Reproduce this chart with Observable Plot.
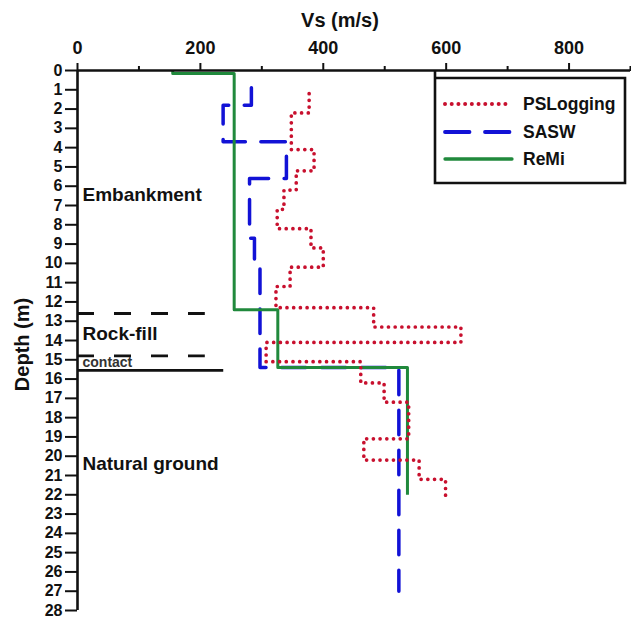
<!DOCTYPE html>
<html>
<head>
<meta charset="utf-8">
<script src="https://cdn.jsdelivr.net/npm/d3@7"></script>
<script src="https://cdn.jsdelivr.net/npm/@observablehq/plot@0.6"></script>
<style>
  html, body { margin: 0; padding: 0; background: #fff; }
  #chart { position: relative; width: 631px; height: 618px; }
</style>
</head>
<body>
<div id="chart"></div>
<script>
// ---------- data ----------
// PS Logging: layer velocities (m/s) and layer top depths (m)
const psVs  = [377, 348, 385, 356, 336, 325, 380, 400, 346, 323, 482, 624, 307, 461, 499, 539, 466, 556, 599];
const psTop = [1.2, 2.2, 4.1, 5.2, 6.2, 7.2, 8.2, 9.2, 10.2, 11.2, 12.3, 13.3, 14.1, 15.1, 16.2, 17.2, 19.1, 20.2, 21.2];
const psBottom = 22.2;

// SASW
const saswVs  = [283, 237, 340, 280, 288, 297, 523];
const saswTop = [0.9, 1.8, 3.7, 5.6, 8.7, 9.9, 15.4];
const saswBottom = 27;

// ReMi
const remiVs  = [155, 255, 326, 537];
const remiTop = [0, 0.15, 12.4, 15.4];
const remiBottom = 22;

// Geological boundaries
const dashedDepth = [12.6, 14.8];
const dashedEnd   = [208, 208];
const contactDepth = [15.55];
const contactEnd   = [238];

// Zone labels
const zoneNames = ["Embankment", "Rock-fill", "Natural ground"];
const zoneDepth = [6.45, 13.65, 20.4];
const contactLabel = ["contact"];
const contactLabelDepth = [15.15];

// Ticks
const xMajorTicks = [0, 200, 400, 600, 800];
const xMinorTicks = [100, 300, 500, 700, 900];
const yTicks = d3.range(0, 29);

// Series names
const seriesNames = ["PSLogging", "SASW", "ReMi"];

// ---------- build tables ----------
function profile(vs, tops, bottom) {
  const pts = [];
  vs.forEach((v, i) => {
    pts.push({v, d: tops[i]});
    pts.push({v, d: i + 1 < tops.length ? tops[i + 1] : bottom});
  });
  return pts;
}
const psData = profile(psVs, psTop, psBottom);
const saswData = profile(saswVs, saswTop, saswBottom);
const remiData = profile(remiVs, remiTop, remiBottom);

const dashedRules = dashedDepth.map((d, i) => ({d, x2: dashedEnd[i]}));
const contactRules = contactDepth.map((d, i) => ({d, x2: contactEnd[i]}));
const zones = zoneNames.map((name, i) => ({name, d: zoneDepth[i]}));
const contacts = contactLabel.map((name, i) => ({name, d: contactLabelDepth[i]}));

// ---------- styles ----------
const FONT = "'Liberation Sans', Arial, Helvetica, sans-serif";
const styles = {
  PSLogging: {stroke: "#c8102e", strokeWidth: 3.7, strokeDasharray: "0.01 6.7", strokeLinecap: "round"},
  SASW:      {stroke: "#1212d6", strokeWidth: 3.5, strokeDasharray: "24.5 15.5", strokeLinecap: "round"},
  ReMi:      {stroke: "#20893c", strokeWidth: 3,   strokeDasharray: null, strokeLinecap: "butt"}
};

const chart = Plot.plot({
  width: 631,
  height: 618,
  marginTop: 70,
  marginBottom: 8,
  marginLeft: 77,
  marginRight: 1,
  style: {fontFamily: FONT, fontWeight: "bold", color: "#111", background: "#fff", overflow: "visible"},
  x: {domain: [0, 900], axis: null},
  y: {domain: [0, 28], reverse: true, axis: null},
  marks: [
    // boundaries
    Plot.ruleY(dashedRules, {y: "d", x1: 0, x2: "x2", stroke: "#111", strokeWidth: 2.8, strokeDasharray: "17 20"}),
    Plot.ruleY(contactRules, {y: "d", x1: 0, x2: "x2", stroke: "#111", strokeWidth: 2.8}),
    // series
    Plot.line(saswData, {x: "v", y: "d", ...styles.SASW}),
    Plot.line(remiData, {x: "v", y: "d", ...styles.ReMi}),
    Plot.line(psData, {x: "v", y: "d", ...styles.PSLogging}),
    // axes
    Plot.axisX({anchor: "top", ticks: xMajorTicks, tickSize: 8, tickPadding: 9, fontSize: 18, fontWeight: "bold", label: null, strokeWidth: 2}),
    Plot.axisX({anchor: "top", ticks: xMinorTicks, tickSize: 5, tickFormat: () => "", label: null, strokeWidth: 2}),
    Plot.axisY({ticks: yTicks, tickSize: 12, tickPadding: 3, fontSize: 16, fontWeight: "bold", label: null, strokeWidth: 2}),
    Plot.ruleY([0], {stroke: "#111", strokeWidth: 2.6}),
    Plot.ruleX([0], {stroke: "#111", strokeWidth: 2.6}),
    // axis titles
    Plot.text(["Vs (m/s)"], {frameAnchor: "top", dx: -14, dy: -50, lineAnchor: "middle", fontSize: 20, fontWeight: "bold", fill: "#111"}),
    Plot.text(["Depth (m)"], {frameAnchor: "left", dx: -55, dy: 4, rotate: -90, lineAnchor: "middle", textAnchor: "middle", fontSize: 20, fontWeight: "bold", fill: "#111"}),
    // zone labels
    Plot.text(zones, {x: 0, y: "d", text: "name", textAnchor: "start", dx: 5, fontSize: 19, fontWeight: "bold", fill: "#111"}),
    Plot.text(contacts, {x: 0, y: "d", text: "name", textAnchor: "start", dx: 5, fontSize: 14, fontWeight: "bold", fill: "#333"})
  ]
});

document.getElementById("chart").appendChild(chart);

// ---------- legend (overlaid on the plot svg) ----------
const svg = d3.select(chart);
const lg = svg.append("g").attr("class", "legend").attr("text-anchor", "start");
lg.append("path")
  .attr("d", "M435,70 V183 H625 V78 H435")
  .attr("fill", "none").attr("stroke", "#111").attr("stroke-width", 2.6);
const legendY = [104, 132, 159];
seriesNames.forEach((name, i) => {
  const s = styles[name];
  const ln = lg.append("line")
    .attr("x1", 445).attr("x2", 512)
    .attr("y1", legendY[i]).attr("y2", legendY[i])
    .attr("stroke", s.stroke).attr("stroke-width", s.strokeWidth + 0.3)
    .attr("stroke-linecap", name === "ReMi" ? "round" : s.strokeLinecap);
  if (s.strokeDasharray) ln.attr("stroke-dasharray", s.strokeDasharray);
  lg.append("text")
    .attr("x", 523).attr("y", legendY[i]).attr("dy", "0.35em")
    .attr("text-anchor", "start")
    .attr("font-size", 17.5).attr("font-weight", "bold")
    .attr("font-family", FONT).attr("fill", "#111")
    .text(name);
});
</script>
</body>
</html>
